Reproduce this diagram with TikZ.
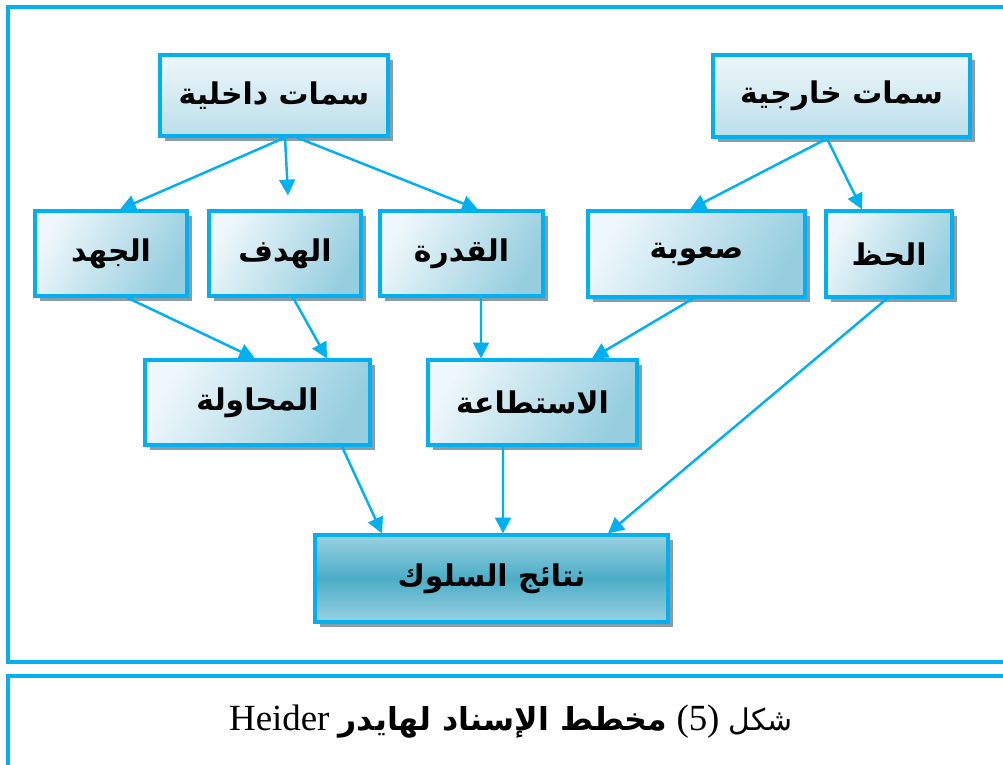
\documentclass[tikz,border=0pt]{standalone}
\usepackage{fontspec}
\setmainfont{Liberation Serif}
\newfontfamily\arabicfont[Script=Arabic]{DejaVu Sans}
\TeXXeTstate=1
\usepackage{tikz}
\usetikzlibrary{arrows.meta,shapes,positioning,shadows}
\usepackage{xcolor}
\definecolor{frameblue}{RGB}{0,176,240}
\definecolor{boxlight}{RGB}{238,247,251}
\definecolor{boxmid}{RGB}{186,223,233}
\definecolor{boxdark}{RGB}{150,206,223}
\definecolor{resmid}{RGB}{76,173,199}
\definecolor{reslight}{RGB}{152,209,225}
\definecolor{shadowgray}{RGB}{115,140,152}
\tikzstyle{box} = [draw=frameblue, line width=1.8pt, rectangle, inner sep=0pt,
  drop shadow={shadow xshift=0.1cm, shadow yshift=-0.1cm, fill=shadowgray, opacity=0.85},
  font=\fontsize{17}{20}\selectfont\arabicfont\bfseries]
\tikzstyle{topbox} = [box, top color=boxlight, bottom color=boxmid]
\tikzstyle{midbox} = [box, left color=boxlight, right color=boxdark, shading angle=60]
\tikzstyle{resbox} = [box, top color=reslight, bottom color=reslight, middle color=resmid]
\tikzstyle{arrow} = [line width=1.4pt, -{Triangle[length=9pt,width=9pt]}, color=frameblue]
\newcommand{\ar}[1]{\beginR #1\endR}

\begin{document}
\begin{tikzpicture}[x=0.02cm, y=-0.02cm]
\useasboundingbox (0,0) rectangle (1003,764);

% outer frames
\draw[frameblue, line width=2.2pt] (1010,7) -- (8,7) -- (8,662) -- (1010,662);
\draw[frameblue, line width=2.2pt] (1010,676) -- (8,676) -- (8,770);

% top level
\node[topbox, minimum width=4.56cm, minimum height=1.62cm] (dakhil) at (274,95.5) {\ar{سمات داخلية}};
\node[topbox, minimum width=5.14cm, minimum height=1.64cm] (kharij) at (841.5,96) {\ar{سمات خارجية}};

% second level
\node[midbox, minimum width=3.04cm, minimum height=1.7cm] (juhd) at (111,253.5) {\ar{الجهد}};
\node[midbox, minimum width=3.04cm, minimum height=1.7cm] (hadaf) at (285,253.5) {\ar{الهدف}};
\node[midbox, minimum width=3.26cm, minimum height=1.7cm] (qudra) at (461.5,253.5) {\ar{القدرة}};
\node[midbox, minimum width=4.34cm, minimum height=1.72cm] (suuba) at (696.5,254) {\ar{صعوبة}};
\node[midbox, minimum width=2.52cm, minimum height=1.72cm] (hazz) at (889,254) {\ar{الحظ}};

% third level
\node[midbox, minimum width=4.5cm, minimum height=1.7cm] (muhawala) at (257.5,402.5) {\ar{المحاولة}};
\node[midbox, minimum width=4.18cm, minimum height=1.7cm] (istitaa) at (532.5,402.5) {\ar{الاستطاعة}};

% result
\node[resbox, minimum width=7.06cm, minimum height=1.74cm] (nataij) at (491.5,578.5) {\ar{نتائج السلوك}};

% arrows
\draw[arrow] ([xshift=0.22cm]dakhil.south) -- ([xshift=0.18cm]juhd.north);
\draw[arrow] ([xshift=0.22cm]dakhil.south) -- ([xshift=0.06cm,yshift=0.28cm]hadaf.north);
\draw[arrow] ([xshift=0.46cm]dakhil.south) -- ([xshift=0.33cm]qudra.north);
\draw[arrow] ([xshift=-0.29cm]kharij.south) -- ([xshift=-0.13cm]suuba.north);
\draw[arrow] ([xshift=-0.29cm]kharij.south) -- ([xshift=-0.54cm]hazz.north);
\draw[arrow] ([xshift=0.32cm]juhd.south) -- ([xshift=-0.05cm]muhawala.north);
\draw[arrow] ([xshift=0.16cm]hadaf.south) -- ([xshift=1.39cm]muhawala.north);
\draw[arrow] ([xshift=0.39cm]qudra.south) -- ([xshift=-1.03cm]istitaa.north);
\draw[arrow] ([xshift=-0.07cm]suuba.south) -- ([xshift=1.19cm]istitaa.north);
\draw[arrow] ([xshift=1.69cm]muhawala.south) -- ([xshift=-2.19cm]nataij.north);
\draw[arrow] ([xshift=-0.59cm]istitaa.south) -- ([xshift=0.23cm]nataij.north);
\draw[arrow] ([xshift=-0.04cm]hazz.south) -- ([xshift=2.33cm]nataij.north);

% caption
\node[font=\fontsize{21}{24}\selectfont] (caption) at (511,722)
  {Heider {\fontsize{18}{24}\selectfont\arabicfont\bfseries\ar{مخطط الإسناد لهايدر}} (5) {\fontsize{17}{24}\selectfont\arabicfont\ar{شكل}}};
\end{tikzpicture}
\end{document}
